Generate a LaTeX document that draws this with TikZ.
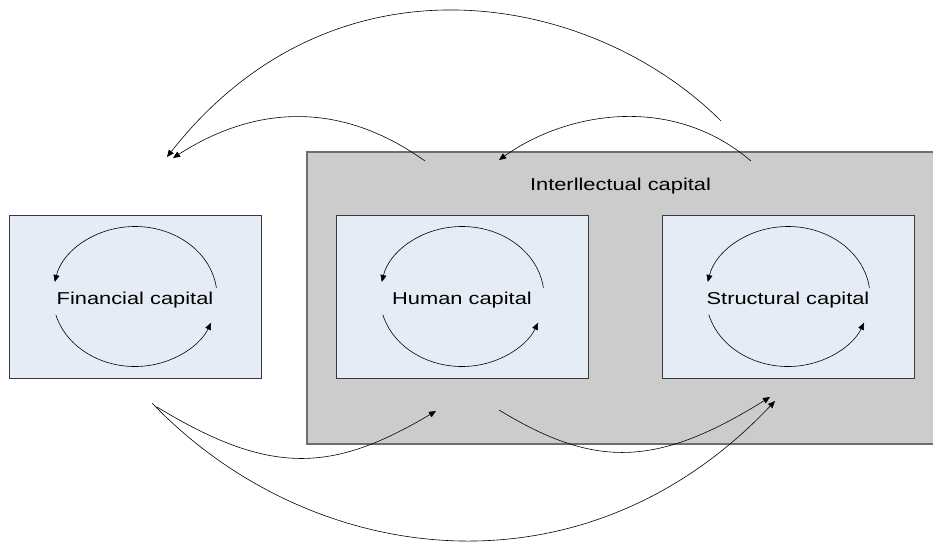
\documentclass[tikz,border=0pt]{standalone}
\usepackage{fontspec}
\newfontfamily\capfont{Liberation Sans}[FakeStretch=1.27]
\usetikzlibrary{arrows.meta}
\definecolor{boxfill}{HTML}{E6ECF6}
\definecolor{icfill}{HTML}{CCCCCC}
\definecolor{icline}{HTML}{6E6E6E}
\definecolor{boxline}{HTML}{3A3A3A}

\begin{document}
\begin{tikzpicture}[x=1pt,y=1pt,
  capbox/.style={draw=boxline,line width=0.9pt,fill=boxfill,
    minimum width=252pt,minimum height=163pt,inner sep=0pt},
  groupbox/.style={draw=icline,line width=1.1pt,fill=icfill,
    minimum width=628pt,minimum height=292pt,inner sep=0pt},
  lbl/.style={font=\capfont\fontsize{17.2}{20}\selectfont,text=black,inner sep=0pt},
  flow/.style={line width=0.6pt,-{Triangle[length=7pt,width=6pt]}}]

\useasboundingbox (0,0) rectangle (933,542);

% intellectual capital group
\node[groupbox] (ic) at (621,244) {};
\node[lbl,anchor=base] (iclabel) at (620.5,352) {Interllectual capital};

% the three capital boxes
\node[capbox] (fin) at (135,245.5) {};
\node[capbox] (hum) at (462,245.5) {};
\node[capbox] (str) at (788,245.5) {};

\node[lbl,anchor=base] (fintext) at ([yshift=-7.5pt]fin.center) {Financial capital};
\node[lbl,anchor=base] (humtext) at ([yshift=-7.5pt]hum.center) {Human capital};
\node[lbl,anchor=base] (strtext) at ([yshift=-7.5pt]str.center) {Structural capital};

% self-reinforcing loops inside each box
\foreach \b in {fin,hum,str}{
  \draw[flow] ([shift={(81.39pt,8.53pt)}]\b.center)
    arc[start angle=7,end angle=168,x radius=82pt,y radius=70pt];
  \draw[flow] ([shift={(-79.21pt,-18.12pt)}]\b.center)
    arc[start angle=195,end angle=338,x radius=82pt,y radius=70pt];
}

% connector end points
\coordinate (strTopA) at (721,421);
\coordinate (strTopB) at (751,381);
\coordinate (humTop)  at (425,381);
\coordinate (humIn)   at (499,382);
\coordinate (finInA)  at (167,385);
\coordinate (finInB)  at (173,384);
\coordinate (finOutA) at (157,135);
\coordinate (finOutB) at (152,139);
\coordinate (humOut)  at (499,132);
\coordinate (humInB)  at (436,131);
\coordinate (strInA)  at (770,145);
\coordinate (strInB)  at (775,141);

% flows over the top
\draw[flow] (strTopA) .. controls (594,548) and (336,600) .. (finInA);
\draw[flow] (humTop) .. controls (339,442.5) and (253.6,435.8) .. (finInB);
\draw[flow] (strTopB) .. controls (670,450) and (564,428.6) .. (humIn);

% flows underneath
\draw[flow] (finOutA) .. controls (270.5,66) and (332,69.3) .. (humInB);
\draw[flow] (finOutB) .. controls (309,-25) and (582,-63) .. (strInB);
\draw[flow] (humOut) .. controls (593.7,74.4) and (655.2,73.4) .. (strInA);
\end{tikzpicture}
\end{document}
